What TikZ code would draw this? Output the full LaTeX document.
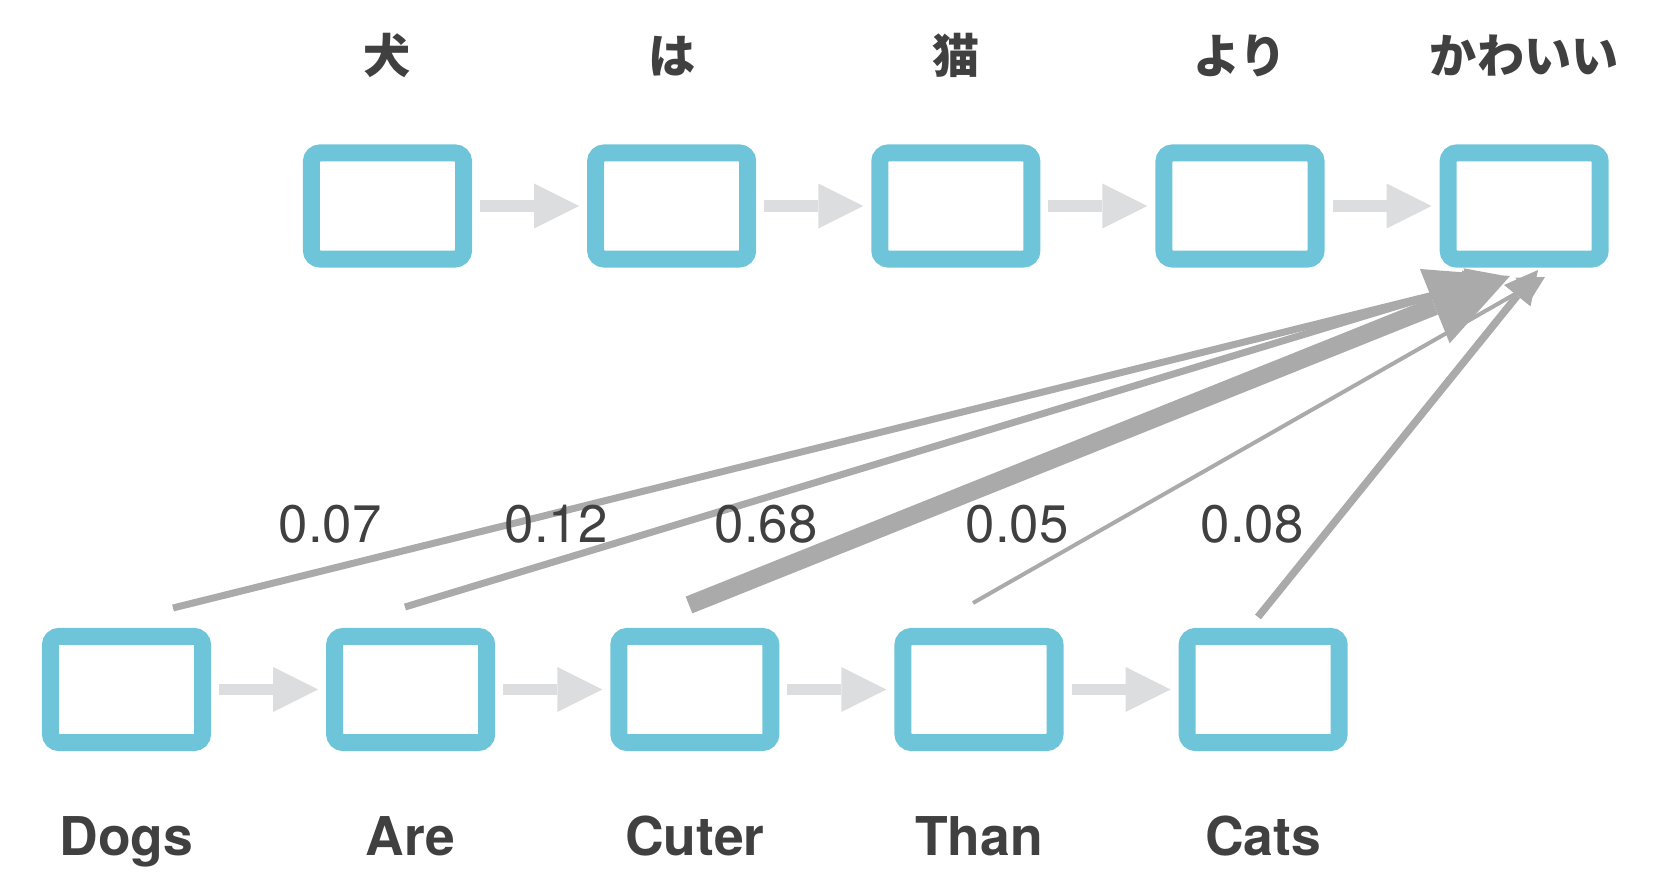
\documentclass[tikz,border=0pt]{standalone}
\usepackage{fontspec}
\setsansfont{TeX Gyre Heros}
\newfontfamily\jafont{Noto Sans CJK JP}
\usetikzlibrary{arrows.meta, positioning}
\definecolor{cellColor}{HTML}{6EC4D8}
\definecolor{flowColor}{HTML}{DCDDDF}
\definecolor{attnColor}{HTML}{A9AAA9}
\definecolor{textColor}{HTML}{404040}
\tikzstyle{flow} = [draw=flowColor, line width=1.15mm,
-{Triangle[length=4.5mm, width=4.5mm, line width=0pt]},
shorten <=0.8mm, shorten >=0.8mm]
\tikzstyle{attn} = [draw=attnColor]

\begin{document}
\begin{tikzpicture}[
    x=0.01cm, y=0.01cm,
    node distance=11.5mm and 11.5mm,
    cell/.style={draw=cellColor, line width=1.7mm, rounded corners=0.85mm, minimum width=15.2mm, minimum height=10.6mm, inner sep=0pt},
    jaword/.style={text=textColor, font=\jafont\bfseries\fontsize{13.4}{16}\selectfont, yshift=15mm},
    enword/.style={text=textColor, font=\sffamily\bfseries\fontsize{15.2}{18}\selectfont, anchor=base, yshift=-16.55mm},
    weight/.style={text=textColor, font=\sffamily\fontsize{15}{18}\selectfont}
]
\useasboundingbox (0,0) rectangle (1660,894);

% Decoder (top)
\node[cell] (t1) at (387.5,688) {};
\node[cell, right=of t1] (t2) {};
\node[cell, right=of t2] (t3) {};
\node[cell, right=of t3] (t4) {};
\node[cell, right=of t4] (t5) {};

% Encoder (bottom)
\node[cell] (b1) at (126.5,204.5) {};
\node[cell, right=of b1] (b2) {};
\node[cell, right=of b2] (b3) {};
\node[cell, right=of b3] (b4) {};
\node[cell, right=of b4] (b5) {};

% Words
\node[jaword] (j1) at (t1) {犬};
\node[jaword] (j2) at (t2) {は};
\node[jaword] (j3) at (t3) {猫};
\node[jaword] (j4) at (t4) {より};
\node[jaword] (j5) at (t5) {かわいい};
\node[enword] (w1) at (b1) {Dogs};
\node[enword] (w2) at (b2) {Are};
\node[enword] (w3) at (b3) {Cuter};
\node[enword] (w4) at (b4) {Than};
\node[enword] (w5) at (b5) {Cats};

% Draw chain
\draw[flow] (t1) -- (t2);
\draw[flow] (t2) -- (t3);
\draw[flow] (t3) -- (t4);
\draw[flow] (t4) -- (t5);
\draw[flow] (b1) -- (b2);
\draw[flow] (b2) -- (b3);
\draw[flow] (b3) -- (b4);
\draw[flow] (b4) -- (b5);

% Attention
\coordinate (s1) at (173,286);
\coordinate (s2) at (405,287);
\coordinate (s3) at (689,289);
\coordinate (s4) at (973,291);
\coordinate (s5) at (1258,277);
\coordinate (e1) at (1498,615);
\coordinate (e2) at (1500,619);
\coordinate (e3) at (1510,618);
\coordinate (e4) at (1545,617);
\coordinate (e5) at (1538,624);
\draw[attn, line width=0.7mm, -{Triangle[length=3.3mm, width=3.4mm, line width=0pt]}] (s1) -- (e1);
\draw[attn, line width=0.7mm, -{Triangle[length=3.3mm, width=3.4mm, line width=0pt]}] (s2) -- (e2);
\draw[attn, line width=1.8mm, -{Triangle[length=8.1mm, width=8mm, line width=0pt]}] (s3) -- (e3);
\draw[attn, line width=0.4mm, -{Triangle[length=2.6mm, width=2.8mm, line width=0pt]}] (s4) -- (e4);
\draw[attn, line width=0.75mm, -{Triangle[length=3.3mm, width=3.4mm, line width=0pt]}] (s5) -- (e5);

% Weights
\node[weight] (a1) at (330,370) {0.07};
\node[weight] (a2) at (556,370) {0.12};
\node[weight] (a3) at (766,370) {0.68};
\node[weight] (a4) at (1017,370) {0.05};
\node[weight] (a5) at (1252,370) {0.08};
\end{tikzpicture}
\end{document}
